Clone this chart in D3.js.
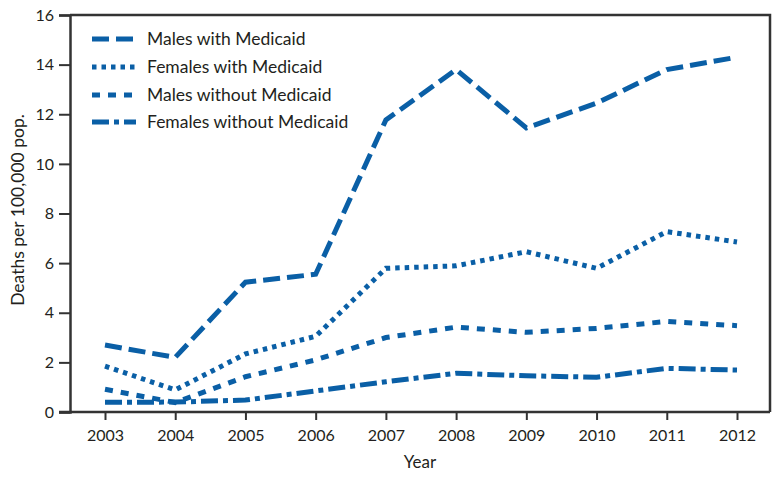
<!DOCTYPE html>
<html><head><meta charset="utf-8">
<script src="https://cdn.jsdelivr.net/npm/d3@7"></script>
<style>
body{margin:0;background:#fff;}
text{font-family:"Lato","Open Sans",sans-serif;fill:#231f20;}
</style></head>
<body><svg id="c" width="783" height="479"></svg>
<script>
const years = [2003,2004,2005,2006,2007,2008,2009,2010,2011,2012];
const malesWith = [2.7,2.2,5.23,5.55,11.77,13.8,11.45,12.45,13.8,14.3];
const femalesWith = [1.85,0.89,2.34,3.05,5.79,5.89,6.46,5.79,7.27,6.85];
const malesWithout = [0.92,0.38,1.42,2.1,3.0,3.42,3.21,3.37,3.65,3.48];
const femalesWithout = [0.39,0.4,0.48,0.85,1.22,1.56,1.46,1.4,1.76,1.69];
const yTicks = [0,2,4,6,8,10,12,14,16];
const seriesNames = ["Males with Medicaid","Females with Medicaid","Males without Medicaid","Females without Medicaid"];
const dashes = ["17,7","4.5,5","8,8","17,5,5,5"];
const color = "#0a5fa6";

const svg = d3.select("#c");
const x = d3.scaleLinear().domain([2003,2012]).range([105,737]);
const y = d3.scaleLinear().domain([0,16]).range([412,15]);
const left = 70, right = 770;

svg.append("path").attr("d",`M${left},${y(16)}H${right}V${y(0)}`).attr("fill","none").attr("stroke","#333").attr("stroke-width",2.5);

const yAxis = svg.append("g").attr("transform",`translate(${left},0)`)
  .call(d3.axisLeft(y).tickValues(yTicks).tickSize(11).tickPadding(5).tickFormat(d3.format("d")));
const xAxis = svg.append("g").attr("transform",`translate(0,${y(0)})`)
  .call(d3.axisBottom(x).tickValues(years).tickSize(8).tickPadding(10).tickFormat(d3.format("d")));
[yAxis,xAxis].forEach(g=>{
  g.select(".domain").attr("stroke","#333").attr("stroke-width",2.5);
  g.selectAll(".tick line").attr("stroke","#333").attr("stroke-width",2);
  g.selectAll("text").style("font-size","16px").attr("fill","#231f20");
});
xAxis.select(".domain").attr("d",`M${left-11},0H${right}`);

const allSeries = [malesWith,femalesWith,malesWithout,femalesWithout];
const line = d3.line().x((d,i)=>x(years[i])).y(d=>y(d));
allSeries.forEach((s,k)=>{
  svg.append("path").datum(s).attr("d",line).attr("fill","none")
    .attr("stroke",color).attr("stroke-width",5).attr("stroke-dasharray",dashes[k]);
});

const legY = [39,67,95,122];
seriesNames.forEach((n,k)=>{
  svg.append("line").attr("x1",92).attr("x2",136).attr("y1",legY[k]).attr("y2",legY[k])
    .attr("stroke",color).attr("stroke-width",5).attr("stroke-dasharray",dashes[k]);
  svg.append("text").attr("x",147).attr("y",legY[k]).attr("dy","0.36em").style("font-size","17.5px").text(n);
});

svg.append("text").attr("transform","translate(24,210) rotate(-90)").attr("text-anchor","middle")
  .style("font-size","17.5px").text("Deaths per 100,000 pop.");
svg.append("text").attr("x",420).attr("y",468).attr("text-anchor","middle").style("font-size","17px").text("Year");
</script></body></html>
